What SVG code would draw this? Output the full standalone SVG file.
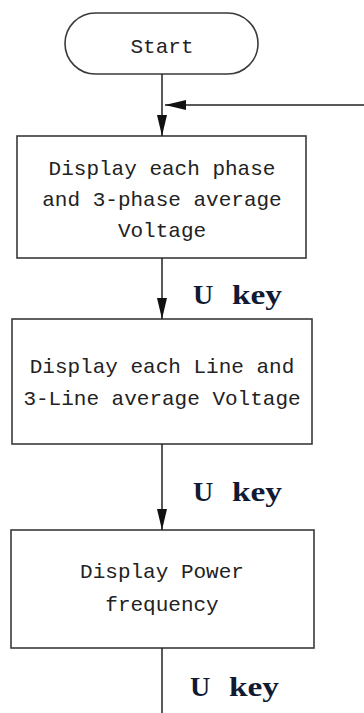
<svg xmlns="http://www.w3.org/2000/svg" width="364" height="713" viewBox="0 0 364 713">
<style>
.box{fill:#fff;stroke:#3a3a3a;stroke-width:1.6}
.t{font-family:"Liberation Mono",monospace;font-size:21px;fill:#222;text-anchor:middle}
.k{font-family:"Liberation Serif",serif;font-size:28px;font-weight:bold;fill:#111a33}
.c{fill:none;stroke:#222;stroke-width:1.5}
</style>
<defs>
<marker id="ah" markerUnits="userSpaceOnUse" markerWidth="21" markerHeight="10" refX="21" refY="5" orient="auto">
<path d="M0,0 L21,5 L0,10 z" fill="#111"/>
</marker>
</defs>
<g id="start">
<rect class="box" x="65" y="13" width="193" height="61" rx="30.5"/>
<text class="t" x="162" y="53">Start</text>
</g>
<g id="phase">
<rect class="box" x="17" y="136" width="289" height="122"/>
<text class="t" x="162" y="175">Display each phase</text>
<text class="t" x="162" y="206">and 3-phase average</text>
<text class="t" x="162" y="237">Voltage</text>
</g>
<g id="line">
<rect class="box" x="12" y="319" width="300" height="125"/>
<text class="t" x="162" y="373">Display each Line and</text>
<text class="t" x="162" y="405">3-Line average Voltage</text>
</g>
<g id="freq">
<rect class="box" x="11" y="530" width="303" height="118"/>
<text class="t" x="162" y="578">Display Power</text>
<text class="t" x="162" y="611">frequency</text>
</g>
<g id="connectors">
<path class="c" d="M162,74 V136" marker-end="url(#ah)"/>
<path class="c" d="M364,105 H165" marker-end="url(#ah)"/>
<path class="c" d="M162,258 V319" marker-end="url(#ah)"/>
<path class="c" d="M162,444 V530" marker-end="url(#ah)"/>
<path class="c" d="M162,648 V713"/>
<text class="k" x="193" y="304">U</text><text class="k" x="232" y="304" textLength="50" lengthAdjust="spacingAndGlyphs">key</text>
<text class="k" x="193" y="501">U</text><text class="k" x="232" y="501" textLength="50" lengthAdjust="spacingAndGlyphs">key</text>
<text class="k" x="190" y="696">U</text><text class="k" x="229" y="696" textLength="50" lengthAdjust="spacingAndGlyphs">key</text>
</g>
</svg>
